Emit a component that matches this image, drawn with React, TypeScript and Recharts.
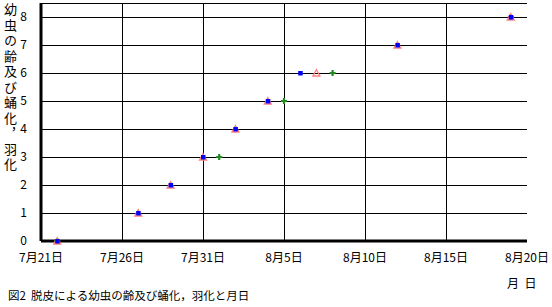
import { ComposedChart, Scatter, XAxis, YAxis, CartesianGrid, ReferenceLine } from 'recharts'

// days counted from 7月21日
const dateTicks = [0, 5, 10, 15, 20, 25, 30]
const dateLabels = ['7月21日', '7月26日', '7月31日', '8月5日', '8月10日', '8月15日', '8月20日']
const stageTicks = [0, 1, 2, 3, 4, 5, 6, 7, 8]

// blue squares
const blueDays = [1, 6, 8, 10, 12, 14, 16, 22, 29]
const blueStage = [0, 1, 2, 3, 4, 5, 6, 7, 8]
// pink open triangles
const pinkDays = [1, 6, 8, 10, 12, 14, 17, 22, 29]
const pinkStage = [0, 1, 2, 3, 4, 5, 6, 7, 8]
// green crosses
const greenDays = [1, 11, 15, 18, 29]
const greenStage = [0, 3, 5, 6, 8]

const toPoints = (days: number[], vals: number[]) => days.map((d, i) => ({ day: d, stage: vals[i] }))

const FONT = '"Noto Sans CJK JP", "Noto Sans", sans-serif'

const Square = ({ cx, cy }: any) => <rect x={cx - 2} y={cy - 2} width={4.5} height={4.5} fill="#0000FF" />
const Triangle = ({ cx, cy }: any) => (
  <path d={`M${cx},${cy - 3.5} L${cx + 3.5},${cy + 3} L${cx - 3.5},${cy + 3} Z`} fill="none" stroke="#FF8080" strokeWidth={1.3} />
)
const Cross = ({ cx, cy }: any) => (
  <path d={`M${cx - 3},${cy} L${cx + 3},${cy} M${cx},${cy - 3} L${cx},${cy + 3}`} stroke="#228B22" strokeWidth={2.2} />
)

export default function App() {
  return (
    <div style={{ position: 'absolute', left: 0, top: 0, width: 552, height: 307, background: '#fff', fontFamily: FONT }}>
      <ComposedChart width={552} height={307} margin={{ top: 3, right: 25, left: 0, bottom: 36 }}>
        <CartesianGrid stroke="#000" strokeWidth={1} vertical={false} shapeRendering="crispEdges" />
        {dateTicks.slice(1, -1).map((d) => (
          <ReferenceLine key={d} x={d} stroke="#000" strokeWidth={1} shapeRendering="crispEdges" />
        ))}
        <XAxis
          type="number"
          dataKey="day"
          domain={[0, 30]}
          ticks={dateTicks}
          tickFormatter={(v: number) => dateLabels[dateTicks.indexOf(v)]}
          axisLine={{ stroke: '#000', strokeWidth: 3 }}
          tickLine={false}
          tickMargin={6}
          height={30}
          interval={0}
          tick={{ fill: '#000', fontSize: 12, fontFamily: FONT }}
        />
        <YAxis
          type="number"
          dataKey="stage"
          domain={[0, 8.5]}
          ticks={stageTicks}
          axisLine={{ stroke: '#000', strokeWidth: 3 }}
          tickLine={false}
          tickMargin={8}
          width={41}
          interval={0}
          tick={{ fill: '#000', fontSize: 12, fontFamily: FONT }}
        />
        <Scatter data={toPoints(greenDays, greenStage)} dataKey="stage" shape={Cross} isAnimationActive={false} />
        <Scatter data={toPoints(pinkDays, pinkStage)} dataKey="stage" shape={Triangle} isAnimationActive={false} />
        <Scatter data={toPoints(blueDays, blueStage)} dataKey="stage" shape={Square} isAnimationActive={false} />
      </ComposedChart>

      {/* vertical y-axis title */}
      <div
        style={{
          position: 'absolute', left: 2, top: 3, writingMode: 'vertical-rl', textOrientation: 'upright',
          fontSize: 13, letterSpacing: 2.5, lineHeight: '16px', color: '#000',
        }}
      >
        幼虫の齢及び蛹化，羽化
      </div>

      <div style={{ position: 'absolute', left: 507, top: 274, fontSize: 12, color: '#000', whiteSpace: 'pre' }}>月  日</div>
      <div style={{ position: 'absolute', left: 8, top: 287, fontSize: 11.5, color: '#000', whiteSpace: 'pre' }}>
        図2  脱皮による幼虫の齢及び蛹化，羽化と月日
      </div>
    </div>
  )
}
